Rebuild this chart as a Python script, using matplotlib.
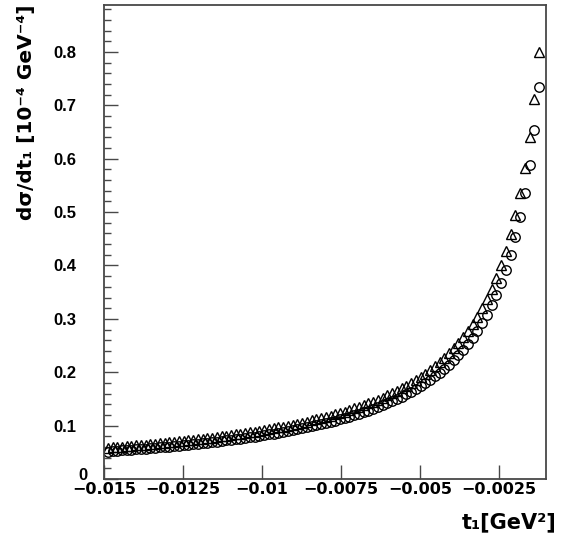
import numpy as np
import matplotlib
matplotlib.use("Agg")
import matplotlib.pyplot as plt
import matplotlib.transforms as mtransforms
from matplotlib.ticker import MultipleLocator, FixedLocator

# t_1 bin centres [GeV^2]
t_start, t_stop, n_bins = -0.01488, -0.00123, 92
t = np.linspace(t_start, t_stop, n_bins)

# triangles (upper series)
y_tri = [0.0585, 0.0592, 0.0599, 0.0606, 0.0613, 0.0620, 0.0628, 0.0636, 0.0644, 0.0652,
         0.0660, 0.0668, 0.0677, 0.0686, 0.0695, 0.0704, 0.0713, 0.0723, 0.0733, 0.0743,
         0.0754, 0.0764, 0.0775, 0.0787, 0.0798, 0.0810, 0.0822, 0.0835, 0.0848, 0.0861,
         0.0875, 0.0889, 0.0903, 0.0918, 0.0933, 0.0949, 0.0966, 0.0982, 0.1000, 0.1018,
         0.1036, 0.1056, 0.1076, 0.1096, 0.1118, 0.1140, 0.1163, 0.1187, 0.1211, 0.1237,
         0.1264, 0.1292, 0.1321, 0.1351, 0.1383, 0.1416, 0.1451, 0.1487, 0.1525, 0.1565,
         0.1607, 0.1652, 0.1698, 0.1748, 0.1800, 0.1855, 0.1913, 0.1975, 0.2041, 0.2111,
         0.2186, 0.2267, 0.2353, 0.2446, 0.2547, 0.2655, 0.2773, 0.2902, 0.3043, 0.3198,
         0.3368, 0.3558, 0.3770, 0.4008, 0.4277, 0.4584, 0.4937, 0.5349, 0.5834, 0.6414,
         0.7120, 0.7998]

# circles (lower series)
y_cir = [0.0515, 0.0521, 0.0527, 0.0534, 0.0541, 0.0547, 0.0554, 0.0561, 0.0569, 0.0576,
         0.0584, 0.0591, 0.0599, 0.0607, 0.0616, 0.0624, 0.0633, 0.0642, 0.0651, 0.0660,
         0.0670, 0.0680, 0.0690, 0.0700, 0.0711, 0.0722, 0.0733, 0.0745, 0.0757, 0.0769,
         0.0782, 0.0794, 0.0808, 0.0821, 0.0836, 0.0850, 0.0865, 0.0881, 0.0897, 0.0913,
         0.0931, 0.0948, 0.0967, 0.0986, 0.1005, 0.1026, 0.1047, 0.1069, 0.1092, 0.1116,
         0.1140, 0.1166, 0.1193, 0.1221, 0.1250, 0.1281, 0.1313, 0.1346, 0.1381, 0.1418,
         0.1457, 0.1498, 0.1541, 0.1586, 0.1634, 0.1685, 0.1738, 0.1796, 0.1856, 0.1921,
         0.1990, 0.2065, 0.2144, 0.2230, 0.2322, 0.2422, 0.2531, 0.2650, 0.2780, 0.2922,
         0.3080, 0.3254, 0.3449, 0.3669, 0.3917, 0.4200, 0.4525, 0.4905, 0.5351, 0.5886,
         0.6537, 0.7346]

x_ticks = [-0.015, -0.0125, -0.01, -0.0075, -0.005, -0.0025]
x_tick_labels = ["\u22120.015", "\u22120.0125", "\u22120.01", "\u22120.0075", "\u22120.005", "\u22120.0025"]
y_ticks = [0, 0.1, 0.2, 0.3, 0.4, 0.5, 0.6, 0.7, 0.8]
y_tick_labels = ["0", "0.1", "0.2", "0.3", "0.4", "0.5", "0.6", "0.7", "0.8"]

W, H = 561, 543
plt.rcParams["font.family"] = ["DejaVu Sans"]
fig = plt.figure(figsize=(W / 100, H / 100), dpi=100)
ax = fig.add_axes([104 / W, 1 - 479 / H, (546 - 104) / W, (479 - 5) / H])

fw = "bold"

ax.plot(t, y_cir, linestyle="none", marker="o", markersize=6.8,
        markerfacecolor="none", markeredgecolor="black", markeredgewidth=1.0)
ax.plot(t, y_tri, linestyle="none", marker="^", markersize=7.5,
        markerfacecolor="none", markeredgecolor="black", markeredgewidth=1.0)

ax.set_xlim(-0.015, -0.00101)
ax.set_ylim(0, 0.888)

frame_col = "#484848"
for s in ax.spines.values():
    s.set_color(frame_col)
    s.set_linewidth(1.3)

ax.xaxis.set_major_locator(FixedLocator(x_ticks))
ax.set_xticklabels(x_tick_labels)
ax.yaxis.set_major_locator(FixedLocator(y_ticks))
ax.set_yticklabels(y_tick_labels)
ax.yaxis.set_minor_locator(MultipleLocator(0.02))

ax.tick_params(axis="x", which="major", direction="in", length=10, width=1.0,
               color=frame_col, pad=2, labelsize=11.5)
ax.tick_params(axis="y", which="major", direction="in", length=10, width=1.0,
               color=frame_col, pad=20)
ax.tick_params(axis="y", which="minor", direction="in", length=5, width=1.0,
               color=frame_col)
for lab in ax.get_xticklabels():
    lab.set_fontweight(fw)
for lab in ax.get_yticklabels():
    lab.set_fontweight(fw)
    lab.set_family("Liberation Sans")
    lab.set_fontsize(12)

# ROOT-style placement of the "0" label
zero = ax.get_yticklabels()[0]
zero.set_transform(zero.get_transform() +
                   mtransforms.ScaledTranslation(11 / 100, 5 / 100, fig.dpi_scale_trans))

fig.text(27 / W, 1 - 5 / H, "d\u03c3/dt\u2081 [10\u207b\u2074 GeV\u207b\u2074]",
         rotation=90, ha="center", va="top", fontsize=14.5, fontweight=fw)
fig.text(556 / W, 1 - 522 / H, "t\u2081[GeV\u00b2]", ha="right", va="center",
         fontsize=15, fontweight=fw)

fig.savefig("out.png", dpi=100, facecolor="white")
